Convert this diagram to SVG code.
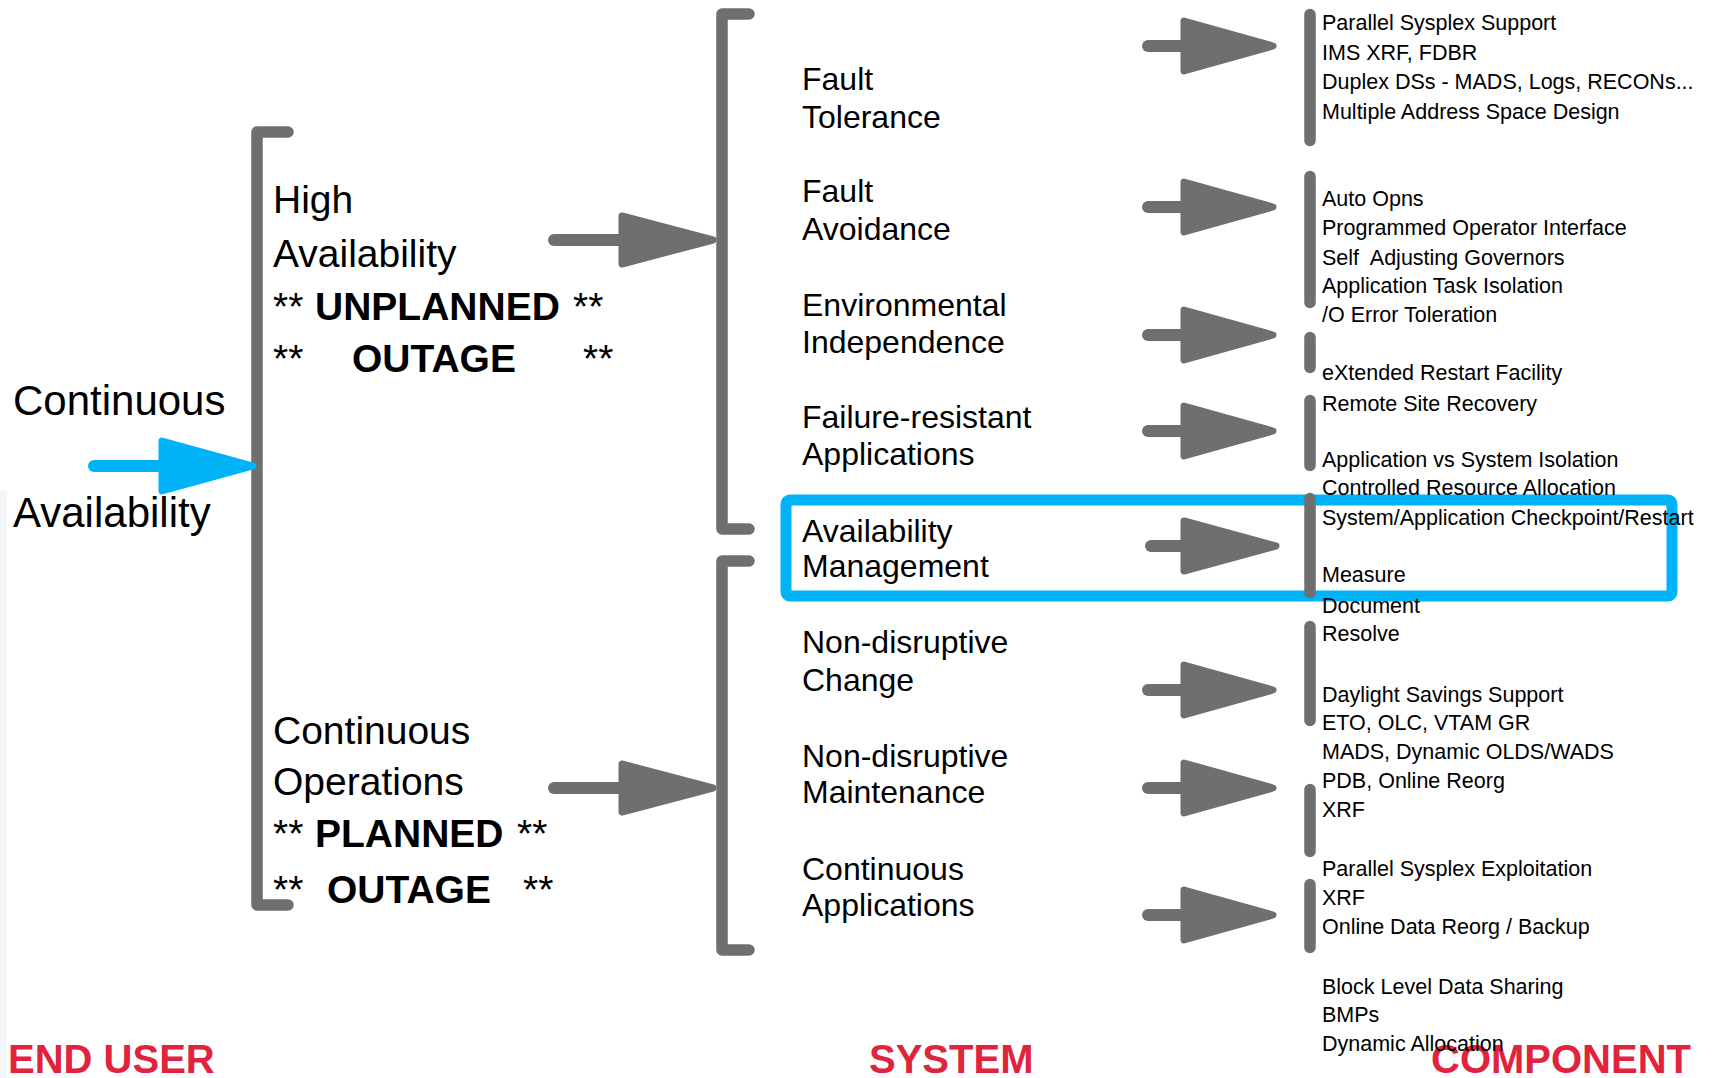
<svg xmlns="http://www.w3.org/2000/svg" width="1716" height="1078" viewBox="0 0 1716 1078">
<style>
text{font-family:"Liberation Sans",Arial,sans-serif;fill:#000}
.eu{font-size:42px}
.ha{font-size:39px}
.b{font-weight:bold}
.sys{font-size:32px}
.cmp{font-size:21.5px}
.tier{font-size:40px;font-weight:bold;fill:#E0243E}
.brk{fill:none;stroke:#6F6F6F;stroke-width:11.5;stroke-linecap:round;stroke-linejoin:round}
.bar{stroke:#6F6F6F;stroke-width:11.5;stroke-linecap:round}
.shaft{stroke:#6F6F6F;stroke-width:12;stroke-linecap:round}
.head{fill:#6F6F6F;stroke:#6F6F6F;stroke-width:7;stroke-linejoin:round}
.cshaft{stroke:#00B3F7;stroke-width:12;stroke-linecap:round}
.chead{fill:#00B3F7;stroke:#00B3F7;stroke-width:7;stroke-linejoin:round}
</style>
<rect x="0" y="0" width="1716" height="1078" fill="#FFFFFF"/>
<rect x="0" y="490" width="7" height="588" fill="#F4F5F9"/>

<g id="highlight">
<rect x="786" y="500" width="886" height="96" rx="4" fill="none" stroke="#00B3F7" stroke-width="11"/>
</g>

<g id="connectors">
<path class="brk" d="M288 132 H257 V905 H288"/>
<path class="brk" d="M749 14 H722 V529 H749"/>
<path class="brk" d="M749 561 H722 V950 H749"/>
<line class="cshaft" x1="94" y1="466" x2="170" y2="466"/>
<polygon class="chead" points="162,441 253,466 162,491"/>
<line class="shaft" x1="554" y1="240" x2="630" y2="240"/>
<polygon class="head" points="622,216 713,240 622,264"/>
<line class="shaft" x1="554" y1="788" x2="630" y2="788"/>
<polygon class="head" points="622,764 713,788 622,812"/>
<line class="shaft" x1="1148" y1="46" x2="1195" y2="46"/>
<polygon class="head" points="1184,21 1273,46 1184,71"/>
<line class="shaft" x1="1148" y1="207" x2="1195" y2="207"/>
<polygon class="head" points="1184,182 1273,207 1184,232"/>
<line class="shaft" x1="1148" y1="335" x2="1195" y2="335"/>
<polygon class="head" points="1184,310 1273,335 1184,360"/>
<line class="shaft" x1="1148" y1="431" x2="1195" y2="431"/>
<polygon class="head" points="1184,406 1273,431 1184,456"/>
<line class="shaft" x1="1151" y1="546" x2="1195" y2="546"/>
<polygon class="head" points="1184,521 1276,546 1184,571"/>
<line class="shaft" x1="1148" y1="690" x2="1195" y2="690"/>
<polygon class="head" points="1184,665 1273,690 1184,715"/>
<line class="shaft" x1="1148" y1="788" x2="1195" y2="788"/>
<polygon class="head" points="1184,763 1273,788 1184,813"/>
<line class="shaft" x1="1148" y1="915" x2="1195" y2="915"/>
<polygon class="head" points="1184,890 1273,915 1184,940"/>
<line class="bar" x1="1310" y1="14.5" x2="1310" y2="140.5"/>
<line class="bar" x1="1310" y1="176.5" x2="1310" y2="302.5"/>
<line class="bar" x1="1310" y1="337.5" x2="1310" y2="367.5"/>
<line class="bar" x1="1310" y1="400.5" x2="1310" y2="465.5"/>
<line class="bar" x1="1310" y1="498.5" x2="1310" y2="592.5"/>
<line class="bar" x1="1310" y1="626.5" x2="1310" y2="720.5"/>
<line class="bar" x1="1310" y1="789.5" x2="1310" y2="851.5"/>
<line class="bar" x1="1310" y1="884.5" x2="1310" y2="947.5"/>
</g>

<g id="tier-labels">
<text class="tier" x="8" y="1073">END USER</text>
<text class="tier" x="869" y="1073">SYSTEM</text>
<text class="tier" x="1431" y="1073">COMPONENT</text>
</g>

<g id="n-continuous-availability">
<text class="eu" x="13" y="415">Continuous</text>
<text class="eu" x="13" y="527">Availability</text>
</g>

<g id="n-high-availability">
<text class="ha" x="273" y="213">High</text>
<text class="ha" x="273" y="267">Availability</text>
<text class="ha" y="320"><tspan x="273">**</tspan><tspan x="315" class="b">UNPLANNED</tspan><tspan x="573">**</tspan></text>
<text class="ha" y="372"><tspan x="273">**</tspan><tspan x="352" class="b">OUTAGE</tspan><tspan x="583">**</tspan></text>
</g>

<g id="n-continuous-operations">
<text class="ha" x="273" y="744">Continuous</text>
<text class="ha" x="273" y="795">Operations</text>
<text class="ha" y="847"><tspan x="273">**</tspan><tspan x="315" class="b">PLANNED</tspan><tspan x="517">**</tspan></text>
<text class="ha" y="903"><tspan x="273">**</tspan><tspan x="327" class="b">OUTAGE</tspan><tspan x="523">**</tspan></text>
</g>

<g id="n-fault-tolerance"><text class="sys" x="802" y="90">Fault</text><text class="sys" x="802" y="128">Tolerance</text></g>
<g id="n-fault-avoidance"><text class="sys" x="802" y="202">Fault</text><text class="sys" x="802" y="240">Avoidance</text></g>
<g id="n-environmental-independence"><text class="sys" x="802" y="316">Environmental</text><text class="sys" x="802" y="353">Independence</text></g>
<g id="n-failure-resistant-applications"><text class="sys" x="802" y="428">Failure-resistant</text><text class="sys" x="802" y="465">Applications</text></g>
<g id="n-availability-management"><text class="sys" x="802" y="542">Availability</text><text class="sys" x="802" y="577">Management</text></g>
<g id="n-non-disruptive-change"><text class="sys" x="802" y="653">Non-disruptive</text><text class="sys" x="802" y="691">Change</text></g>
<g id="n-non-disruptive-maintenance"><text class="sys" x="802" y="767">Non-disruptive</text><text class="sys" x="802" y="803">Maintenance</text></g>
<g id="n-continuous-applications"><text class="sys" x="802" y="880">Continuous</text><text class="sys" x="802" y="916">Applications</text></g>

<g id="n-components">
<text class="cmp" x="1322" y="30">Parallel Sysplex Support</text>
<text class="cmp" x="1322" y="60">IMS XRF, FDBR</text>
<text class="cmp" x="1322" y="89">Duplex DSs - MADS, Logs, RECONs...</text>
<text class="cmp" x="1322" y="119">Multiple Address Space Design</text>
<text class="cmp" x="1322" y="206">Auto Opns</text>
<text class="cmp" x="1322" y="235">Programmed Operator Interface</text>
<text class="cmp" x="1322" y="265" style="white-space:pre">Self  Adjusting Governors</text>
<text class="cmp" x="1322" y="293">Application Task Isolation</text>
<text class="cmp" x="1322" y="322">/O Error Toleration</text>
<text class="cmp" x="1322" y="380">eXtended Restart Facility</text>
<text class="cmp" x="1322" y="411">Remote Site Recovery</text>
<text class="cmp" x="1322" y="467">Application vs System Isolation</text>
<text class="cmp" x="1322" y="495">Controlled Resource Allocation</text>
<text class="cmp" x="1322" y="525">System/Application Checkpoint/Restart</text>
<text class="cmp" x="1322" y="582">Measure</text>
<text class="cmp" x="1322" y="613">Document</text>
<text class="cmp" x="1322" y="641">Resolve</text>
<text class="cmp" x="1322" y="702">Daylight Savings Support</text>
<text class="cmp" x="1322" y="730">ETO, OLC, VTAM GR</text>
<text class="cmp" x="1322" y="759">MADS, Dynamic OLDS/WADS</text>
<text class="cmp" x="1322" y="788">PDB, Online Reorg</text>
<text class="cmp" x="1322" y="817">XRF</text>
<text class="cmp" x="1322" y="876">Parallel Sysplex Exploitation</text>
<text class="cmp" x="1322" y="905">XRF</text>
<text class="cmp" x="1322" y="934">Online Data Reorg / Backup</text>
<text class="cmp" x="1322" y="994">Block Level Data Sharing</text>
<text class="cmp" x="1322" y="1022">BMPs</text>
<text class="cmp" x="1322" y="1051">Dynamic Allocation</text>
</g>
</svg>
